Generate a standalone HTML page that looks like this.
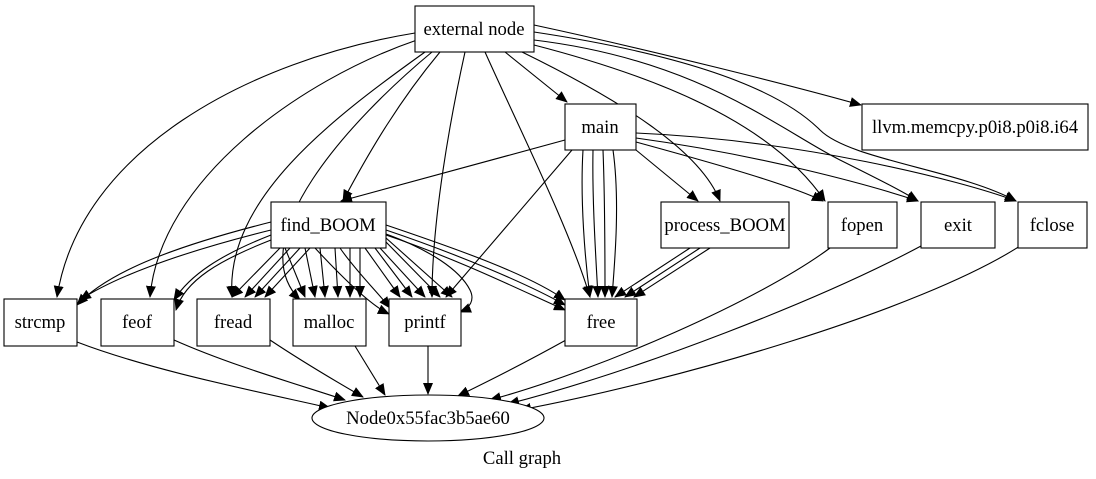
<!DOCTYPE html>
<html><head><meta charset="utf-8"><style>
html,body{margin:0;padding:0;background:#fff;}
svg{display:block;}
text{font-family:"Liberation Serif",serif;font-size:18.67px;fill:#000;}
</style></head><body>
<svg width="1096" height="479" viewBox="0 0 1096 479" xmlns="http://www.w3.org/2000/svg">
<defs>
<marker id="a" markerWidth="12" markerHeight="10" refX="11" refY="5" orient="auto" markerUnits="userSpaceOnUse">
<path d="M0,0 L12,5 L0,10 z" fill="#000"/>
</marker>
</defs>
<g fill="none" stroke="#000" stroke-width="1.1" marker-end="url(#a)">
<!-- external node edges -->
<path d="M415,33 C250,60 80,150 57,297"/>
<path d="M417,40 C300,80 160,180 150,297"/>
<path d="M425,52 C330,120 225,200 232,297"/>
<path d="M432,52 C350,120 240,240 300,300"/>
<path d="M440,52 C400,100 370,150 343,201"/>
<path d="M465,52 C450,120 432,220 432,297"/>
<path d="M485,52 C520,130 570,230 590,297"/>
<path d="M505,52 L567,102"/>
<path d="M522,52 C620,100 700,150 720,201"/>
<path d="M534,45 C650,75 770,120 825,201"/>
<path d="M534,40 C700,60 780,130 840,160 C880,180 900,190 918,201"/>
<path d="M534,32 C720,60 790,100 820,130 C850,160 960,170 1016,201"/>
<path d="M534,25 C650,50 790,85 861,105"/>
<!-- main edges -->
<path d="M565,140 L341,201"/>
<path d="M572,150 L446,297"/>
<path d="M583,150 C580,200 585,260 590,297"/>
<path d="M593,150 C592,200 596,260 598,297"/>
<path d="M603,150 C605,200 605,260 605,297"/>
<path d="M613,150 C620,200 615,260 612,297"/>
<path d="M636,150 L698,201"/>
<path d="M636,142 C720,165 790,185 823,201"/>
<path d="M636,138 C760,155 870,185 918,201"/>
<path d="M636,133 C800,140 960,180 1016,201"/>
<!-- find_BOOM edges -->
<path d="M271,222 C180,245 110,270 77,305"/>
<path d="M271,230 C170,255 110,280 80,300"/>
<path d="M271,235 C220,255 190,275 174,300"/>
<path d="M271,240 C220,260 185,280 176,310"/>
<path d="M280,248 L232,297"/>
<path d="M290,248 L245,297"/>
<path d="M300,248 L255,297"/>
<path d="M310,248 L265,297"/>
<path d="M285,248 L305,297"/>
<path d="M305,248 L315,297"/>
<path d="M320,248 L325,297"/>
<path d="M335,248 L338,297"/>
<path d="M350,248 L350,297"/>
<path d="M360,248 L360,297"/>
<path d="M340,248 C355,270 380,295 390,308"/>
<path d="M315,248 C340,275 370,305 389,314"/>
<path d="M365,248 L400,297"/>
<path d="M375,248 L412,297"/>
<path d="M380,248 L425,297"/>
<path d="M386,242 L440,297"/>
<path d="M386,238 L452,297"/>
<path d="M386,234 C430,250 460,270 470,290 C475,300 470,308 460,312"/>
<path d="M386,225 C460,250 530,275 565,300"/>
<path d="M386,230 C460,255 530,285 565,305"/>
<path d="M386,235 C460,260 520,290 565,310"/>
<!-- process_BOOM edges -->
<path d="M690,248 L615,297"/>
<path d="M700,248 L625,297"/>
<path d="M710,248 L634,297"/>
<!-- to Node -->
<path d="M77,342 C150,370 250,390 330,408"/>
<path d="M174,340 C230,365 300,385 345,400"/>
<path d="M270,340 C300,360 330,378 363,397"/>
<path d="M355,346 L385,395"/>
<path d="M428,346 L428,394"/>
<path d="M566,340 C530,360 495,378 458,396"/>
<path d="M830,248 C760,300 600,370 490,400"/>
<path d="M921,246 C820,300 640,370 508,404"/>
<path d="M1020,246 C920,310 680,380 520,410"/>
</g>
<g fill="#fff" stroke="#000" stroke-width="1.1">
<rect x="415" y="6" width="119" height="46"/>
<rect x="565" y="104" width="71" height="46"/>
<rect x="862" y="104" width="226" height="46"/>
<rect x="271" y="202" width="115" height="46"/>
<rect x="661" y="202" width="128" height="46"/>
<rect x="828" y="202" width="69" height="46"/>
<rect x="921" y="202" width="74" height="46"/>
<rect x="1018" y="202" width="69" height="46"/>
<rect x="4" y="299" width="73" height="47"/>
<rect x="101" y="299" width="73" height="47"/>
<rect x="197" y="299" width="73" height="47"/>
<rect x="293" y="299" width="73" height="47"/>
<rect x="389" y="299" width="72" height="47"/>
<rect x="565" y="299" width="72" height="47"/>
<ellipse cx="428" cy="418" rx="116" ry="23"/>
</g>
<g text-anchor="middle">
<text x="474" y="35">external node</text>
<text x="600" y="133">main</text>
<text x="975" y="133">llvm.memcpy.p0i8.p0i8.i64</text>
<text x="328" y="231">find_BOOM</text>
<text x="725" y="231">process_BOOM</text>
<text x="862" y="231">fopen</text>
<text x="958" y="231">exit</text>
<text x="1052" y="231">fclose</text>
<text x="40" y="328">strcmp</text>
<text x="137" y="328">feof</text>
<text x="233" y="328">fread</text>
<text x="329" y="328">malloc</text>
<text x="425" y="328">printf</text>
<text x="601" y="328">free</text>
<text x="428" y="424">Node0x55fac3b5ae60</text>
<text x="522" y="464">Call graph</text>
</g>
</svg>
</body></html>
